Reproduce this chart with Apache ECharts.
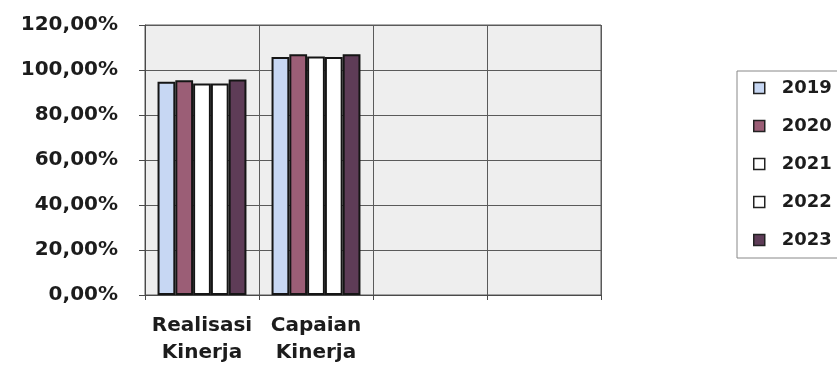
<!DOCTYPE html>
<html>
<head>
<meta charset="utf-8">
<script src="https://cdn.jsdelivr.net/npm/echarts@6/dist/echarts.min.js"></script>
<style>
  html, body { margin: 0; padding: 0; background: #ffffff; }
  #chart { width: 837px; height: 369px; }
</style>
</head>
<body>
<div id="chart"></div>
<script>
// Categories on the x axis (two empty slots keep the grid four columns wide)
const categories = ['Realisasi\nKinerja', 'Capaian\nKinerja', '', ''];

// Values per year, in percent
const years = ['2019', '2020', '2021', '2022', '2023'];
const v2019 = [94.8, 105.8, null, null];
const v2020 = [95.5, 107.0, null, null];
const v2021 = [94.0, 106.0, null, null];
const v2022 = [94.0, 105.8, null, null];
const v2023 = [95.8, 107.0, null, null];

// Y axis tick labels (0 .. 120 in steps of 20)
const yTickLabels = ['0,00%', '20,00%', '40,00%', '60,00%', '80,00%', '100,00%', '120,00%'];

const barColors = ['#c7d7f3', '#9b5e76', '#ffffff', '#ffffff', '#5e3c57'];
const seriesValues = [v2019, v2020, v2021, v2022, v2023];

const font = '"DejaVu Sans", Verdana, sans-serif';
const textColor = '#1c1c1c';

const chart = echarts.init(document.getElementById('chart'), null, { renderer: 'canvas' });

chart.setOption({
  backgroundColor: '#ffffff',
  animation: false,
  grid: {
    left: 145, right: 236, top: 25, bottom: 74,
    show: true,
    backgroundColor: '#eeeeee',
    borderColor: '#5a5a5a',
    borderWidth: 1
  },
  legend: {
    orient: 'vertical',
    left: 737, top: 71,
    padding: [8, 40, 9, 16],
    itemWidth: 11, itemHeight: 11,
    itemGap: 20,
    borderColor: '#888888', borderWidth: 1,
    backgroundColor: '#ffffff',
    icon: 'rect',
    itemStyle: { borderColor: '#222222', borderWidth: 1.5 },
    textStyle: { fontFamily: font, fontWeight: 'bold', fontSize: 18, color: textColor, padding: [0, 0, 0, 12] },
    data: years
  },
  xAxis: {
    type: 'category',
    data: categories,
    axisLine: { show: true, lineStyle: { color: '#4a4a4a', width: 1 } },
    axisTick: { show: true, length: 5, lineStyle: { color: '#4a4a4a' } },
    splitLine: { show: true, lineStyle: { color: '#5a5a5a', width: 1 } },
    axisLabel: {
      fontFamily: font, fontWeight: 'bold', fontSize: 20, color: textColor,
      lineHeight: 27, margin: 17, interval: 0
    }
  },
  yAxis: {
    type: 'value',
    min: 0, max: 120, interval: 20,
    axisLine: { show: true, lineStyle: { color: '#4a4a4a', width: 1 } },
    axisTick: { show: true, length: 6, lineStyle: { color: '#4a4a4a' } },
    splitLine: { show: true, lineStyle: { color: '#5a5a5a', width: 1 } },
    axisLabel: {
      fontFamily: font, fontWeight: 'bold', fontSize: 20, color: textColor,
      margin: 27,
      formatter: function (v) { return yTickLabels[Math.round(v / 20)]; }
    }
  },
  series: years.map(function (y, i) {
    return {
      name: y,
      type: 'bar',
      data: seriesValues[i],
      barGap: '0%',
      barCategoryGap: '22%',
      itemStyle: { color: barColors[i], borderColor: '#151515', borderWidth: 2 }
    };
  })
});
</script>
</body>
</html>
